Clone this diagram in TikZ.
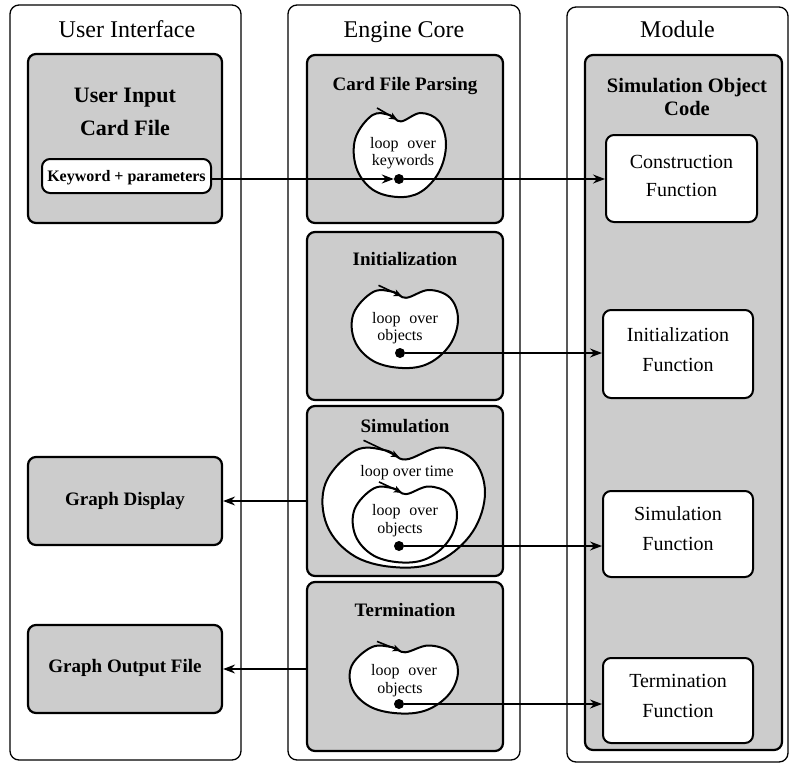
\documentclass[tikz,border=0pt]{standalone}
\usepackage{fontspec}
\setmainfont{Liberation Serif}
\usetikzlibrary{arrows.meta}
\newcommand\drawbean[4]{%
  \begin{scope}[shift={(#1,#2)}, xscale=#3, yscale=#4]
    \draw[beanline] plot[smooth cycle, tension=0.62] coordinates {(0.02,-0.80) (0.45,-1.0) (0.85,-0.8) (1.0,-0.25) (0.85,0.4) (0.45,0.88) (-0.05,1.0) (-0.6,0.82) (-0.95,0.3) (-0.97,-0.4) (-0.6,-0.95) (-0.22,-0.95)};
    \draw[beantick] (-0.5,-1.12) -- (-0.06,-0.84);
  \end{scope}}
\begin{document}
\begin{tikzpicture}[x=1pt,y=-1pt,
  outerbox/.style={draw, line width=1.3pt, rounded corners=9pt, inner sep=0pt},
  graybox/.style={draw, line width=2.2pt, rounded corners=8pt, fill=black!20, inner sep=0pt},
  whitebox/.style={draw, line width=2pt, rounded corners=8pt, fill=white, inner sep=0pt},
  coltitle/.style={font=\fontsize{24}{26}\selectfont, anchor=base, inner sep=0pt},
  boxtitle/.style={font=\bfseries\fontsize{19}{21}\selectfont, anchor=base, inner sep=0pt},
  soctitle/.style={font=\bfseries\fontsize{20.5}{22}\selectfont, anchor=base, inner sep=0pt},
  bigtitle/.style={font=\bfseries\fontsize{22}{24}\selectfont, anchor=base, inner sep=0pt},
  kwtext/.style={font=\bfseries\fontsize{16}{18}\selectfont, anchor=base, inner sep=0pt},
  looptext/.style={font=\fontsize{16}{18}\selectfont, anchor=base, inner sep=0pt},
  functext/.style={font=\fontsize{20}{22}\selectfont, anchor=base, inner sep=0pt},
  arr/.style={line width=1.4pt, -{Stealth[length=12pt,width=9pt,inset=4pt]}},
  dotnode/.style={circle, fill=black, inner sep=0pt, minimum size=10pt},
  beanline/.style={line width=2pt, fill=white},
  beantick/.style={line width=1.6pt, -{Stealth[length=8pt,width=7pt,inset=2pt]}},
]
\useasboundingbox (0,0) rectangle (790,763);
% columns
\node[outerbox, minimum width=231pt, minimum height=755pt] (ui) at (125.5,382.5) {};
\node[outerbox, minimum width=232pt, minimum height=755pt] (ec) at (404,382.5) {};
\node[outerbox, minimum width=221pt, minimum height=755pt] (mod) at (677.5,384.5) {};
\node[coltitle] (uit) at (127,37) {User Interface};
\node[coltitle] (ect) at (404,37) {Engine Core};
\node[coltitle] (modt) at (677.5,37) {Module};
% gray boxes
\node[graybox, minimum width=194pt, minimum height=169pt] (card) at (125,138.5) {};
\node[graybox, minimum width=196pt, minimum height=168pt] (cfp) at (405,139) {};
\node[graybox, minimum width=196pt, minimum height=168pt] (init) at (405,316) {};
\node[graybox, minimum width=196pt, minimum height=170pt] (sim) at (405,491) {};
\node[graybox, minimum width=196pt, minimum height=169pt] (term) at (405,666.5) {};
\node[graybox, minimum width=194pt, minimum height=88pt] (gd) at (125,501) {};
\node[graybox, minimum width=194pt, minimum height=88pt] (gof) at (125,669) {};
\node[graybox, minimum width=197pt, minimum height=695pt] (soc) at (683.5,402.5) {};
% white boxes
\node[whitebox, minimum width=169pt, minimum height=34pt] (kw) at (126.5,176) {};
\node[whitebox, minimum width=151pt, minimum height=87pt] (cons) at (681.5,178.5) {};
\node[whitebox, minimum width=150pt, minimum height=88pt] (initf) at (678,354) {};
\node[whitebox, minimum width=150pt, minimum height=86pt] (simf) at (678,534) {};
\node[whitebox, minimum width=150pt, minimum height=85pt] (termf) at (678,700.5) {};
% loops
\drawbean{400}{155}{46}{42}
\drawbean{405}{329}{53}{39}
\drawbean{404}{507.5}{81}{60}
\drawbean{405}{524.5}{52}{38}
\drawbean{404}{679.5}{54}{34}
% texts
\node[bigtitle] (ui1) at (125,102) {User Input};
\node[bigtitle] (ui2) at (125,135) {Card File};
\node[kwtext] (kwt) at (126.5,181) {Keyword + parameters};
\node[boxtitle] (cfpt) at (405,90) {Card File Parsing};
\node[boxtitle] (initt) at (405,265) {Initialization};
\node[boxtitle] (simt) at (405,432) {Simulation};
\node[boxtitle] (termt) at (405,616) {Termination};
\node[boxtitle] (gdt) at (125,505) {Graph Display};
\node[boxtitle] (goft) at (125,672) {Graph Output File};
\node[soctitle] (soct1) at (687,92) {Simulation Object};
\node[soctitle] (soct2) at (687,115) {Code};
\node[functext] (consa) at (681.5,168) {Construction};
\node[functext] (consb) at (681.5,196) {Function};
\node[functext] (initfa) at (678,341) {Initialization};
\node[functext] (initfb) at (678,371) {Function};
\node[functext] (simfa) at (678,520) {Simulation};
\node[functext] (simfb) at (678,550) {Function};
\node[functext] (termfa) at (678,687) {Termination};
\node[functext] (termfb) at (678,717) {Function};
\node[looptext] (l1a) at (403,148) {loop\hspace{0.3em} over};
\node[looptext] (l1b) at (403,165) {keywords};
\node[looptext] (l2a) at (405,323) {loop\hspace{0.3em} over};
\node[looptext] (l2b) at (400,340) {objects};
\node[looptext] (l3t) at (407,476) {loop over time};
\node[looptext] (l3a) at (405,515) {loop\hspace{0.3em} over};
\node[looptext] (l3b) at (400,533) {objects};
\node[looptext] (l4a) at (404,675) {loop\hspace{0.3em} over};
\node[looptext] (l4b) at (400,693) {objects};
% dots
\node[dotnode] (d1) at (399,179) {};
\node[dotnode] (d2) at (400,353) {};
\node[dotnode] (d3) at (399,546) {};
\node[dotnode] (d4) at (399,704) {};
% connectors
\draw[arr] (kw.east |- d1) -- (d1);
\draw[arr] (d1) -- (d1 -| cons.west);
\draw[arr] (d2) -- (d2 -| initf.west);
\draw[arr] (d3) -- (d3 -| simf.west);
\draw[arr] (d4) -- (d4 -| termf.west);
\draw[arr] (sim.west |- gd.east) -- (gd.east);
\draw[arr] (term.west |- gof.east) -- (gof.east);
\end{tikzpicture}
\end{document}
